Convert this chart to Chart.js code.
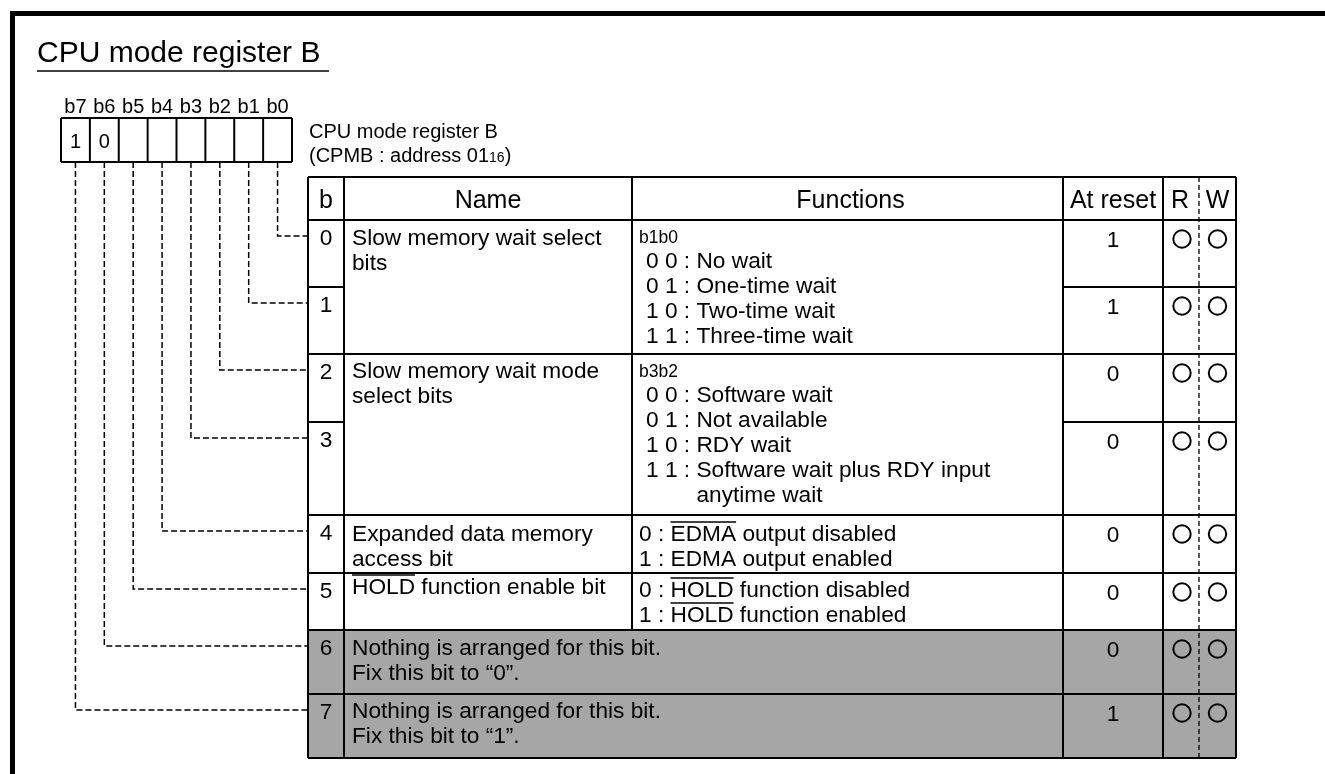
<!DOCTYPE html>
<html><head><meta charset="utf-8">
<script src="https://cdn.jsdelivr.net/npm/chart.js@4/dist/chart.umd.min.js"></script>
<style>html,body{margin:0;padding:0;background:#fff;overflow:hidden}canvas{display:block}</style>
</head><body>
<canvas id="c" width="1325" height="774"></canvas>
<script>
// ---------- content ----------
const titleText = 'CPU mode register B';
const registerName = 'CPU mode register B';
const registerAddress = ['(CPMB : address 01', '16', ')'];
const bitLabels = ['b7','b6','b5','b4','b3','b2','b1','b0'];
const bitFixedValues = ['1','0','','','','','',''];
const headers = ['b','Name','Functions','At reset','R','W'];
const bitNumbers = ['0','1','2','3','4','5','6','7'];
const groupBits = [[0,1],[2,3],[4],[5],[6],[7]];
const groupNames = [
  ['Slow memory wait select','bits'],
  ['Slow memory wait mode','select bits'],
  ['Expanded data memory','access bit'],
  ['[HOLD] function enable bit'],
  ['Nothing is arranged for this bit.','Fix this bit to \u201c0\u201d.'],
  ['Nothing is arranged for this bit.','Fix this bit to \u201c1\u201d.']
];
const groupFunctionHeads = ['b1b0','b3b2',null,null,null,null];
const groupFunctions = [
  [['0 0','No wait'],['0 1','One-time wait'],['1 0','Two-time wait'],['1 1','Three-time wait']],
  [['0 0','Software wait'],['0 1','Not available'],['1 0','RDY wait'],['1 1','Software wait plus RDY input'],['','anytime wait']],
  [['0','[EDMA] output disabled'],['1','EDMA output enabled']],
  [['0','[HOLD] function disabled'],['1','[HOLD] function enabled']],
  [],[]
];
const groupReserved = [false,false,false,false,true,true];
const resetValues = ['1','1','0','0','0','0','0','1'];
const readable = [true,true,true,true,true,true,true,true];
const writable = [true,true,true,true,true,true,true,true];

// ---------- layout ----------
const FONT = '"Liberation Sans", Arial, Helvetica, sans-serif';
const L = {
  frame: {x:10, y:11, w:5},
  title: {x:37, y:62, size:30, ulY:71, ulEnd:329},
  box: {x:61, y:118, w:231, h:44, labelY:113, valueY:148},
  reg: {x:309, y1:138, y2:162, size:20},
  cols: [308,344,632,1063,1163,1199,1236],
  headTop: 177, headBase: 208,
  rowTops: [220,287,354,422,515,573,630,694,758],
  connOff: 16,
  nameOff: [25,24,26,21,25,24],
  funcOff: [48,48,26,24,0,0],
  headOff: 23,
  nameStep: 24.5, funcStep: 25,
  numOff: 25, resetOff: 27, circOff: 19,
  body: 22.7, head: 25, small: 17.5
};

const circleData = [];
for (let i = 0; i < 8; i++) {
  if (readable[i]) circleData.push({x:(L.cols[4]+L.cols[5])/2 + 1, y:L.rowTops[i]+L.circOff});
  if (writable[i]) circleData.push({x:(L.cols[5]+L.cols[6])/2, y:L.rowTops[i]+L.circOff});
}

const tablePlugin = {
  id: 'registerTable',
  beforeDatasetsDraw(chart) {
    const ctx = chart.ctx;
    const sx = chart.scales.x, sy = chart.scales.y;
    const X = v => sx.getPixelForValue(v), Y = v => sy.getPixelForValue(v);
    const font = s => s + 'px ' + FONT;
    const rich = (t, x, y, size) => {
      ctx.font = font(size);
      ctx.textAlign = 'left';
      const parts = t.split(/(\[[^\]]*\])/);
      let cx = X(x);
      for (const p of parts) {
        if (!p) continue;
        const over = p.startsWith('[');
        const s = over ? p.slice(1,-1) : p;
        const w = ctx.measureText(s).width;
        ctx.fillText(s, cx, Y(y));
        if (over) {
          ctx.beginPath(); ctx.lineWidth = 1.5; ctx.setLineDash([]);
          ctx.moveTo(cx, Y(y-19)); ctx.lineTo(cx+w, Y(y-19)); ctx.stroke();
        }
        cx += w;
      }
    };
    const line = (x1,y1,x2,y2,w,dash) => {
      ctx.beginPath(); ctx.lineWidth = w; ctx.setLineDash(dash||[]);
      ctx.moveTo(X(x1),Y(y1)); ctx.lineTo(X(x2),Y(y2)); ctx.stroke();
    };
    const rect = (x1,y1,x2,y2) => ctx.fillRect(X(x1), Y(y1), X(x2)-X(x1), Y(y2)-Y(y1));
    ctx.save();
    ctx.fillStyle = '#fff'; ctx.fillRect(0,0,chart.width,chart.height);
    ctx.fillStyle = '#000'; ctx.strokeStyle = '#000';
    ctx.textBaseline = 'alphabetic';

    // frame
    rect(L.frame.x, L.frame.y, L.frame.x + L.frame.w, sy.max);
    rect(L.frame.x, L.frame.y, sx.max, L.frame.y + L.frame.w);

    // title
    ctx.font = font(L.title.size); ctx.textAlign = 'left';
    ctx.fillText(titleText, X(L.title.x), Y(L.title.y));
    line(L.title.x, L.title.ulY, L.title.ulEnd, L.title.ulY, 1.5);

    // bit boxes
    const cw = L.box.w / 8;
    line(L.box.x, L.box.y, L.box.x+L.box.w, L.box.y, 2);
    line(L.box.x, L.box.y+L.box.h, L.box.x+L.box.w, L.box.y+L.box.h, 2);
    for (let k = 0; k <= 8; k++) line(L.box.x+k*cw, L.box.y, L.box.x+k*cw, L.box.y+L.box.h, 2);
    ctx.textAlign = 'center';
    for (let k = 0; k < 8; k++) {
      const cx = L.box.x + (k+0.5)*cw;
      ctx.font = font(20);
      ctx.fillText(bitLabels[k], X(cx), Y(L.box.labelY));
      if (bitFixedValues[k]) ctx.fillText(bitFixedValues[k], X(cx), Y(L.box.valueY));
    }

    // register label
    ctx.textAlign = 'left'; ctx.font = font(L.reg.size);
    ctx.fillText(registerName, X(L.reg.x), Y(L.reg.y1));
    let ax = X(L.reg.x);
    ctx.fillText(registerAddress[0], ax, Y(L.reg.y2)); ax += ctx.measureText(registerAddress[0]).width;
    ctx.font = font(14); ctx.fillText(registerAddress[1], ax, Y(L.reg.y2)); ax += ctx.measureText(registerAddress[1]).width;
    ctx.font = font(L.reg.size); ctx.fillText(registerAddress[2], ax, Y(L.reg.y2));

    const C = L.cols, R = L.rowTops;
    // gray reserved rows
    groupBits.forEach((bits, g) => {
      if (!groupReserved[g]) return;
      const t = R[bits[0]], b = R[bits[bits.length-1]+1];
      ctx.fillStyle = '#a6a6a6';
      rect(C[0], t, C[6], b);
    });
    ctx.fillStyle = '#000';

    // connectors
    for (let i = 0; i < 8; i++) {
      const k = 7 - i;
      const cx = L.box.x + (k+0.5)*cw;
      const cy = R[i] + L.connOff;
      ctx.beginPath(); ctx.lineWidth = 1.5; ctx.setLineDash([6,3]);
      ctx.moveTo(X(cx), Y(L.box.y+L.box.h)); ctx.lineTo(X(cx), Y(cy)); ctx.lineTo(X(C[0]), Y(cy)); ctx.stroke();
    }

    // table lines
    const bottom = R[8];
    line(C[0], L.headTop, C[6], L.headTop, 2);
    line(C[0], bottom, C[6], bottom, 2);
    line(C[0], L.headTop, C[0], bottom, 2);
    line(C[1], L.headTop, C[1], bottom, 2);
    line(C[3], L.headTop, C[3], bottom, 2);
    line(C[4], L.headTop, C[4], bottom, 2);
    line(C[6], L.headTop, C[6], bottom, 2);
    line(C[5], L.headTop, C[5], bottom, 1.3, [5,3]);
    const firstReserved = groupReserved.indexOf(true);
    line(C[2], L.headTop, C[2], R[groupBits[firstReserved][0]], 2);
    line(C[0], R[0], C[6], R[0], 2);
    groupBits.forEach((bits) => {
      line(C[0], R[bits[0]], C[6], R[bits[0]], 2);
      for (let j = 1; j < bits.length; j++) {
        line(C[0], R[bits[j]], C[1], R[bits[j]], 2);
        line(C[3], R[bits[j]], C[6], R[bits[j]], 2);
      }
    });

    // headers
    ctx.font = font(L.head); ctx.textAlign = 'center';
    const hx = [(C[0]+C[1])/2, (C[1]+C[2])/2, (C[2]+C[3])/2 + 3, (C[3]+C[4])/2, (C[4]+C[5])/2 - 1, (C[5]+C[6])/2];
    headers.forEach((h, k) => ctx.fillText(h, X(hx[k]), Y(L.headBase)));

    // per-bit numbers and reset values
    ctx.font = font(L.body);
    for (let i = 0; i < 8; i++) {
      ctx.textAlign = 'center';
      ctx.fillText(bitNumbers[i], X(hx[0]), Y(R[i]+L.numOff));
      ctx.fillText(resetValues[i], X(hx[3]), Y(R[i]+L.resetOff));
    }

    // names and functions
    groupBits.forEach((bits, g) => {
      const t = R[bits[0]];
      groupNames[g].forEach((s, j) => rich(s, C[1]+8, t + L.nameOff[g] + j*L.nameStep, L.body));
      let fy = t + L.funcOff[g];
      if (groupFunctionHeads[g]) {
        ctx.font = font(L.small); ctx.textAlign = 'left';
        ctx.fillText(groupFunctionHeads[g], X(C[2]+7), Y(t + L.headOff));
      }
      const fx = groupFunctionHeads[g] ? C[2]+14 : C[2]+7;
      let prevPrefixW = 0;
      groupFunctions[g].forEach((f, j) => {
        ctx.font = font(L.body);
        const prefix = f[0] ? f[0] + ' : ' : '';
        const pw = f[0] ? ctx.measureText(prefix).width : prevPrefixW;
        if (f[0]) { ctx.textAlign = 'left'; ctx.fillText(prefix, X(fx), Y(fy + j*L.funcStep)); prevPrefixW = pw; }
        rich(f[1], fx + pw, fy + j*L.funcStep, L.body);
      });
    });
    ctx.restore();
  }
};

new Chart(document.getElementById('c'), {
  type: 'scatter',
  data: { datasets: [{
    data: circleData,
    pointStyle: 'circle', pointRadius: 8.7, pointBorderWidth: 2,
    pointBorderColor: '#000', pointBackgroundColor: 'rgba(0,0,0,0)', clip: false
  }]},
  options: {
    responsive: false, animation: false, devicePixelRatio: 1, events: [],
    layout: { padding: 0, autoPadding: false },
    plugins: { legend: {display:false}, tooltip: {enabled:false}, title: {display:false} },
    scales: {
      x: { type:'linear', min:0, max:1325, display:false },
      y: { type:'linear', min:0, max:774, reverse:true, display:false }
    }
  },
  plugins: [tablePlugin]
});
</script>
</body></html>
